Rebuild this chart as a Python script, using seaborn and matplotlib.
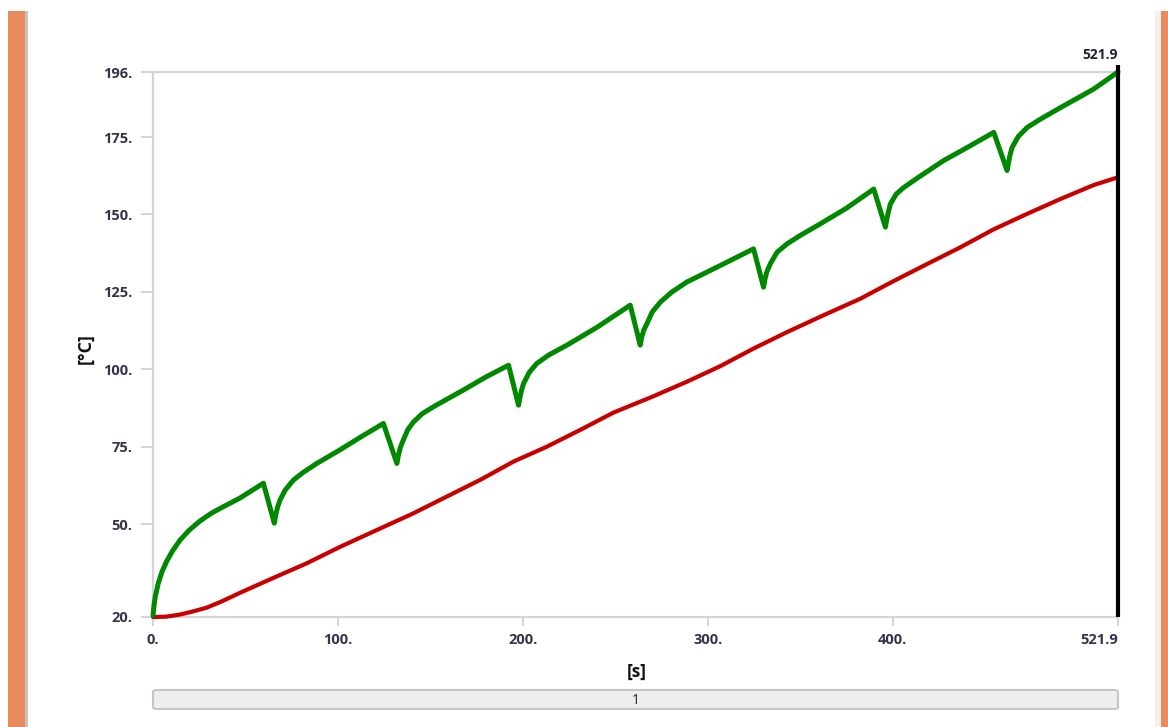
import numpy as np
import pandas as pd
import matplotlib
matplotlib.use("Agg")
import matplotlib.pyplot as plt
from matplotlib.patches import Rectangle, FancyBboxPatch
import seaborn as sns

# ---------------- data ----------------
green_time = [0.0, 0.5, 1.2, 2.9, 5.0, 7.4, 10.5, 14.6, 19.5, 25.4, 31.5, 38.0, 47.0, 59.7,
              65.6, 66.4, 67.4, 68.7, 71.5, 75.9, 81.0, 88.6, 101.2, 112.0, 124.6,
              131.9, 132.7, 133.8, 135.4, 137.8, 140.9, 145.5, 151.7, 167.9, 180.0, 192.3,
              197.7, 198.5, 199.3, 200.4, 203.5, 207.6, 214.0, 223.9, 240.0, 258.1,
              263.5, 264.3, 265.4, 267.1, 270.0, 274.4, 280.5, 288.8, 306.8, 324.8,
              330.2, 331.0, 332.0, 333.9, 337.5, 342.9, 350.0, 361.0, 375.0, 389.8,
              396.1, 396.9, 397.8, 398.8, 402.0, 406.0, 414.0, 427.6, 440.0, 454.7,
              461.9, 462.7, 463.5, 464.6, 468.0, 472.8, 480.0, 490.8, 508.8, 521.9]
green_temp = [20.5, 23.5, 26.5, 31.0, 34.8, 38.0, 41.3, 44.8, 48.0, 51.0, 53.5, 55.6, 58.4, 63.2,
              50.3, 53.0, 55.5, 57.8, 61.0, 64.2, 66.6, 69.6, 74.0, 78.0, 82.5,
              69.6, 72.2, 74.8, 77.2, 80.5, 83.0, 85.6, 87.9, 93.3, 97.5, 101.3,
              88.4, 91.0, 93.2, 95.4, 99.0, 101.9, 104.6, 107.8, 113.5, 120.7,
              107.8, 110.4, 112.6, 114.7, 118.5, 121.7, 124.9, 128.2, 133.5, 138.9,
              126.5, 129.2, 131.5, 134.1, 137.8, 140.5, 143.2, 147.0, 152.0, 158.2,
              145.9, 148.6, 151.0, 153.4, 156.6, 158.7, 162.0, 167.4, 171.5, 176.5,
              164.2, 166.8, 169.2, 171.6, 175.2, 178.1, 180.8, 184.5, 190.5, 196.0]

red_time = [0.0, 7.0, 14.6, 21.0, 29.0, 37.0, 47.0, 65.0, 83.0, 101.0, 120.0, 140.9,
            158.9, 177.0, 195.0, 213.0, 231.0, 249.0, 270.7, 288.8, 306.8,
            324.8, 342.9, 361.0, 382.6, 400.6, 418.7, 436.7, 454.7, 472.8,
            490.8, 508.8, 521.9]
red_temp = [20.0, 20.1, 20.8, 21.7, 23.0, 25.0, 27.8, 32.6, 37.3, 42.6, 47.8, 53.5,
            58.9, 64.3, 70.2, 75.0, 80.4, 86.0, 91.3, 96.0, 101.0,
            106.7, 112.0, 117.0, 122.8, 128.5, 134.0, 139.4, 145.2, 150.2,
            155.0, 159.5, 162.0]

y_ticks = [20, 50, 75, 100, 125, 150, 175, 196]
y_tick_labels = ["20.", "50.", "75.", "100.", "125.", "150.", "175.", "196."]
x_ticks = [0, 100, 200, 300, 400, 521.9]
x_tick_labels = ["0.", "100.", "200.", "300.", "400.", "521.9"]
end_label = "521.9"
x_label = "[s]"
y_label = "[°C]"
step_label = "1"

# ---------------- figure ----------------
sns.set_theme(style="white")
plt.rcParams["font.family"] = ["Open Sans", "DejaVu Sans"]

W, H = 1168, 727
fig = plt.figure(figsize=(W / 100, H / 100), dpi=100)
fig.patch.set_facecolor("white")

def fx(px):
    return px / W

def fy(py):
    return 1 - py / H

# window decorations
orange = "#e98a5d"
fig.patches.append(Rectangle((fx(8), 0), fx(17), fy(11), transform=fig.transFigure,
                             facecolor=orange, edgecolor="none", zorder=0))
fig.patches.append(Rectangle((fx(25), 0), fx(3), fy(11), transform=fig.transFigure,
                             facecolor="#c4c4c4", edgecolor="none", zorder=0))
fig.patches.append(Rectangle((fx(1161), 0), fx(7), fy(11), transform=fig.transFigure,
                             facecolor=orange, edgecolor="none", zorder=0))
fig.patches.append(Rectangle((fx(1155), 0), fx(6), fy(11), transform=fig.transFigure,
                             facecolor="#f0f0f0", edgecolor="none", zorder=0))

left, right, top, bottom = 153, 1118, 72, 617
ax = fig.add_axes([fx(left), fy(bottom), fx(right - left), (bottom - top) / H])

df_g = pd.DataFrame({"t": green_time, "T": green_temp})
df_r = pd.DataFrame({"t": red_time, "T": red_temp})

sns.lineplot(data=df_r, x="t", y="T", ax=ax, color="#c80000", linewidth=3.0,
             estimator=None, sort=False, clip_on=False, zorder=3)
sns.lineplot(data=df_g, x="t", y="T", ax=ax, color="#008800", linewidth=3.6,
             estimator=None, sort=False, clip_on=False, zorder=4)
for ln in ax.lines:
    ln.set_solid_joinstyle("round")
    ln.set_solid_capstyle("round")

ax.set_xlim(0, x_ticks[-1])
ax.set_ylim(y_ticks[0], y_ticks[-1])

# end marker line
t_end = green_time[-1]
ax.plot([t_end, t_end], [y_ticks[0], y_ticks[-1] + 2.3], color="black",
        linewidth=3.0, clip_on=False, zorder=5, solid_capstyle="butt")
ax.text(t_end, y_ticks[-1] + 3.2, end_label, ha="right", va="bottom",
        fontsize=10, fontweight="bold", color="#222233")

# spines
spine_col = "#d4d4d4"
for s in ["left", "bottom", "top"]:
    ax.spines[s].set_visible(True)
    ax.spines[s].set_color(spine_col)
    ax.spines[s].set_linewidth(1.6)
ax.spines["right"].set_visible(False)

ax.set_yticks(y_ticks)
ax.set_yticklabels(y_tick_labels)
ax.set_xticks(x_ticks)
ax.set_xticklabels(x_tick_labels)
ax.tick_params(axis="y", direction="out", length=9, width=1.4, color=spine_col,
               pad=6, labelsize=10.5, labelcolor="#34344a", left=True)
ax.tick_params(axis="x", direction="out", length=6.5, width=1.4, color=spine_col,
               pad=5, labelsize=10.5, labelcolor="#34344a", bottom=True)
for lab in ax.get_yticklabels() + ax.get_xticklabels():
    lab.set_fontweight("bold")
xl = ax.get_xticklabels()
for lab in xl[:-1]:
    lab.set_ha("center")
xl[-1].set_ha("right")
ax.grid(False)

ax.set_xlabel("")
ax.set_ylabel("")
fig.text(fx(637), fy(672), x_label, ha="center", va="center", fontsize=12.5,
         fontweight="bold", color="#111111")
fig.text(fx(86), fy(349), y_label, ha="center", va="center", fontsize=13,
         fontweight="bold", color="#111111", rotation=90)

# step bar at bottom
fig.patches.append(FancyBboxPatch((fx(left), fy(709)), fx(right - left), (709 - 690) / H,
                                  boxstyle="round,pad=0,rounding_size=0.003",
                                  transform=fig.transFigure, facecolor="#eeeeee",
                                  edgecolor="#c6c6c6", linewidth=1.5, zorder=1))
fig.text(fx(636), fy(700), step_label, ha="center", va="center", fontsize=10,
         color="#222222")

fig.savefig("out.png", dpi=100, facecolor="white")
